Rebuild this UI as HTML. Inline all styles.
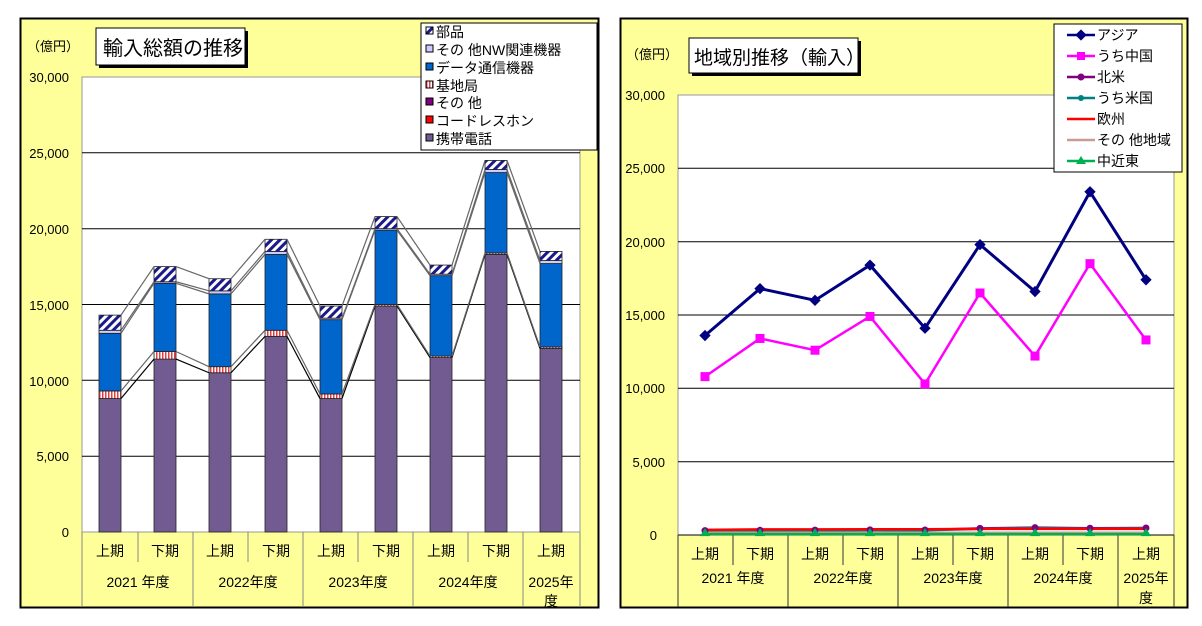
<!DOCTYPE html>
<html><head><meta charset="utf-8"><style>
html,body{margin:0;padding:0;background:#fff;}
svg{display:block;font-family:"Liberation Sans","Noto Sans CJK JP",sans-serif;}
</style></head><body>
<svg width="1202" height="626" viewBox="0 0 1202 626" xmlns="http://www.w3.org/2000/svg">
<defs>
<pattern id="hat" width="6" height="6" patternUnits="userSpaceOnUse" patternTransform="rotate(45)">
<rect width="6" height="6" fill="#fff"/><rect width="3" height="6" fill="#1a1a8c"/></pattern>
<pattern id="bs" width="3" height="4" patternUnits="userSpaceOnUse">
<rect width="3" height="4" fill="#fff"/><rect width="1.5" height="4" fill="#e04040"/></pattern>
</defs>
<!-- LEFT CHART -->
<rect x="20.5" y="18.5" width="578" height="589" fill="#ffff99" stroke="#000" stroke-width="2"/>
<rect x="82" y="77" width="498" height="455" fill="#fff" stroke="#999"/>
<g stroke="#000" stroke-width="1">
<line x1="82" y1="152.8" x2="580" y2="152.8"/><line x1="82" y1="228.7" x2="580" y2="228.7"/>
<line x1="82" y1="304.5" x2="580" y2="304.5"/><line x1="82" y1="380.3" x2="580" y2="380.3"/>
<line x1="82" y1="456.2" x2="580" y2="456.2"/>
</g>
<g font-size="13" text-anchor="end" fill="#000">
<text x="69" y="82">30,000</text><text x="69" y="158">25,000</text><text x="69" y="234">20,000</text>
<text x="69" y="310">15,000</text><text x="69" y="386">10,000</text><text x="69" y="461">5,000</text><text x="69" y="537">0</text>
</g>
<text x="27" y="51" font-size="13">（億円）</text>
<rect x="99" y="31" width="149" height="37" fill="#000"/>
<rect x="96" y="28" width="149" height="37" fill="#fff" stroke="#000"/>
<text x="103" y="55" font-size="20">輸入総額の推移</text>
<g id="bars"></g>
<g stroke="#888" stroke-width="1">
<line x1="82" y1="532" x2="82" y2="607"/><line x1="138" y1="532" x2="138" y2="562"/>
<line x1="193" y1="532" x2="193" y2="607"/><line x1="248" y1="532" x2="248" y2="562"/>
<line x1="303" y1="532" x2="303" y2="607"/><line x1="358" y1="532" x2="358" y2="562"/>
<line x1="413" y1="532" x2="413" y2="607"/><line x1="468" y1="532" x2="468" y2="562"/>
<line x1="523" y1="532" x2="523" y2="607"/><line x1="580" y1="532" x2="580" y2="607"/>
</g>
<g font-size="14" text-anchor="middle">
<text x="110" y="556">上期</text><text x="165" y="556">下期</text><text x="220" y="556">上期</text><text x="276" y="556">下期</text>
<text x="331" y="556">上期</text><text x="386" y="556">下期</text><text x="441" y="556">上期</text><text x="496" y="556">下期</text><text x="551" y="556">上期</text>
<text x="138" y="587">2021 年度</text><text x="248" y="587">2022年度</text><text x="358" y="587">2023年度</text><text x="468" y="587">2024年度</text>
<text x="551" y="587">2025年</text><text x="551" y="606">度</text>
</g>
<rect x="421" y="23" width="176" height="127" fill="#fff" stroke="#000"/>
<g font-size="14">
<rect x="426" y="27" width="7" height="7" fill="url(#hat)" stroke="#000"/><text x="436" y="37">部品</text>
<rect x="426" y="45" width="7" height="7" fill="#ccccff" stroke="#000"/><text x="436" y="55">その 他NW関連機器</text>
<rect x="426" y="63" width="7" height="7" fill="#0066cc" stroke="#000"/><text x="436" y="73">データ通信機器</text>
<rect x="426" y="81" width="7" height="7" fill="url(#bs)" stroke="#000"/><text x="436" y="91">基地局</text>
<rect x="426" y="98" width="7" height="7" fill="#800080" stroke="#000"/><text x="436" y="108">その 他</text>
<rect x="426" y="116" width="7" height="7" fill="#ff0000" stroke="#000"/><text x="436" y="126">コードレスホン</text>
<rect x="426" y="134" width="7" height="7" fill="#715b91" stroke="#000"/><text x="436" y="144">携帯電話</text>
</g>
<!-- RIGHT CHART -->
<rect x="620.5" y="18.5" width="567" height="589" fill="#ffff99" stroke="#000" stroke-width="2"/>
<rect x="678" y="95" width="496" height="440" fill="#fff" stroke="#999"/>
<g stroke="#000" stroke-width="1">
<line x1="678" y1="168.3" x2="1174" y2="168.3"/><line x1="678" y1="241.7" x2="1174" y2="241.7"/>
<line x1="678" y1="315" x2="1174" y2="315"/><line x1="678" y1="388.3" x2="1174" y2="388.3"/>
<line x1="678" y1="461.7" x2="1174" y2="461.7"/><line x1="678" y1="535" x2="1174" y2="535"/>
</g>
<g font-size="13" text-anchor="end">
<text x="665" y="100">30,000</text><text x="665" y="173">25,000</text><text x="665" y="247">20,000</text>
<text x="665" y="320">15,000</text><text x="665" y="393">10,000</text><text x="665" y="467">5,000</text><text x="657" y="540">0</text>
</g>
<text x="626" y="59" font-size="13">（億円）</text>
<rect x="692" y="41" width="169" height="35" fill="#000"/>
<rect x="689" y="38" width="169" height="35" fill="#fff" stroke="#000"/>
<text x="694" y="64" font-size="19">地域別推移（輸入）</text>
<g stroke="#333" stroke-width="1">
<line x1="678" y1="535" x2="678" y2="607"/><line x1="733" y1="535" x2="733" y2="565"/>
<line x1="788" y1="535" x2="788" y2="607"/><line x1="843" y1="535" x2="843" y2="565"/>
<line x1="898" y1="535" x2="898" y2="607"/><line x1="953" y1="535" x2="953" y2="565"/>
<line x1="1008" y1="535" x2="1008" y2="607"/><line x1="1063" y1="535" x2="1063" y2="565"/>
<line x1="1118" y1="535" x2="1118" y2="607"/><line x1="1174" y1="535" x2="1174" y2="607"/>
</g>
<g font-size="14" text-anchor="middle">
<text x="705" y="559">上期</text><text x="760" y="559">下期</text><text x="815" y="559">上期</text><text x="870" y="559">下期</text>
<text x="925" y="559">上期</text><text x="980" y="559">下期</text><text x="1035" y="559">上期</text><text x="1090" y="559">下期</text><text x="1146" y="559">上期</text>
<text x="733" y="583">2021 年度</text><text x="843" y="583">2022年度</text><text x="953" y="583">2023年度</text><text x="1063" y="583">2024年度</text>
<text x="1146" y="583">2025年</text><text x="1146" y="603">度</text>
</g>
<g id="lines"></g>
<rect x="1054" y="24" width="128" height="148" fill="#fff" stroke="#000"/>
<g font-size="14" stroke-width="2.5">
<line x1="1067" y1="35" x2="1095" y2="35" stroke="#000080"/><rect x="1077" y="31" width="8" height="8" fill="#000080" transform="rotate(45 1081 35)"/><text x="1097" y="40" stroke="none">アジア</text>
<line x1="1067" y1="56" x2="1095" y2="56" stroke="#ff00ff"/><rect x="1077" y="52" width="8" height="8" fill="#ff00ff"/><text x="1097" y="61" stroke="none">うち中国</text>
<line x1="1067" y1="77" x2="1095" y2="77" stroke="#800080"/><circle cx="1081" cy="77" r="3.5" fill="#800080"/><text x="1097" y="82" stroke="none">北米</text>
<line x1="1067" y1="98" x2="1095" y2="98" stroke="#008080"/><circle cx="1081" cy="98" r="3" fill="#008080"/><text x="1097" y="103" stroke="none">うち米国</text>
<line x1="1067" y1="119" x2="1095" y2="119" stroke="#ff0000"/><text x="1097" y="124" stroke="none">欧州</text>
<line x1="1067" y1="140" x2="1095" y2="140" stroke="#cc9999"/><text x="1097" y="145" stroke="none">その 他地域</text>
<line x1="1067" y1="161" x2="1095" y2="161" stroke="#00b050"/><polygon points="1081,156 1086,164 1076,164" fill="#00b050"/><text x="1097" y="166" stroke="none">中近東</text>
</g>
</svg>
<script>
(function(){
var ns="http://www.w3.org/2000/svg";
function el(p,t,a){var e=document.createElementNS(ns,t);for(var k in a)e.setAttribute(k,a[k]);p.appendChild(e);return e;}
var g=document.getElementById('bars');
var cx=[110,165,220,276,331,386,441,496,551];
var d=[[8800,9300,13100,13300,14300],[11400,11900,16400,16500,17500],[10500,10900,15700,15900,16700],[12900,13300,18300,18500,19300],[8800,9100,14000,14100,14900],[14900,15000,19900,20000,20800],[11500,11600,16900,17000,17600],[18300,18400,23700,23900,24500],[12100,12200,17700,17900,18500]];
function Y(v){return 532-v*455/30000;}
var fills=['#715b91','url(#bs)','#0066cc','#ccccff','url(#hat)'];
var w=11;
for(var i=0;i<9;i++){var prev=0;for(var j=0;j<5;j++){var v=d[i][j];el(g,'rect',{x:cx[i]-w,y:Y(v),width:2*w,height:Y(prev)-Y(v),fill:fills[j],stroke:'#222','stroke-width':0.8});prev=v;}}
for(var i=0;i<8;i++)for(var j=0;j<5;j++){el(g,'line',{x1:cx[i]+w,y1:Y(d[i][j]),x2:cx[i+1]-w,y2:Y(d[i+1][j]),stroke:j==0?'#000':'#666','stroke-width':1.2});}
var L=document.getElementById('lines');
var rx=[705,760,815,870,925,980,1035,1090,1146];
function RY(v){return 535-v*440/30000;}
function pts(a){return a.map(function(v,i){return rx[i]+','+RY(v)}).join(' ');}
var small=[[[300,320,330,350,340,450,500,460,480],'#800080'],[[280,300,310,330,320,420,470,430,450],'#008080'],[[350,380,380,390,390,420,420,420,420],'#ff0000'],[[150,150,150,150,150,150,150,150,150],'#cc9999'],[[60,60,60,60,60,60,60,60,60],'#00b050']];
small.forEach(function(s){el(L,'polyline',{points:pts(s[0]),fill:'none',stroke:s[1],'stroke-width':2.5});});
small[0][0].forEach(function(v,i){el(L,'circle',{cx:rx[i],cy:RY(v),r:3.5,fill:'#800080'});});
small[4][0].forEach(function(v,i){var y=RY(v);el(L,'polygon',{points:(rx[i])+','+(y-6)+' '+(rx[i]+5)+','+(y+2)+' '+(rx[i]-5)+','+(y+2),fill:'#00b050'});});
var asia=[13600,16800,16000,18400,14100,19800,16600,23400,17400];
var china=[10800,13400,12600,14900,10300,16500,12200,18500,13300];
el(L,'polyline',{points:pts(china),fill:'none',stroke:'#ff00ff','stroke-width':2.5});
china.forEach(function(v,i){el(L,'rect',{x:rx[i]-4.5,y:RY(v)-4.5,width:9,height:9,fill:'#ff00ff'});});
el(L,'polyline',{points:pts(asia),fill:'none',stroke:'#000080','stroke-width':3});
asia.forEach(function(v,i){el(L,'rect',{x:rx[i]-4,y:RY(v)-4,width:8,height:8,fill:'#000080',transform:'rotate(45 '+rx[i]+' '+RY(v)+')'});});
})();
</script>
</body></html>
